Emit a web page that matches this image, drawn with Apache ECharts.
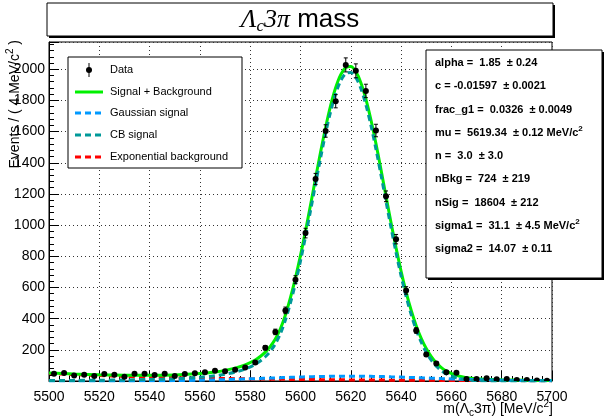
<!DOCTYPE html>
<html><head><meta charset="utf-8">
<script src="https://cdn.jsdelivr.net/npm/echarts@6/dist/echarts.min.js"></script>
<style>html,body{margin:0;padding:0;background:#fff}#c{width:606px;height:418px}</style>
</head><body><div id="c"></div><script>
// ---- data ----
const binCenters = [5502,5506,5510,5514,5518,5522,5526,5530,5534,5538,5542,5546,5550,5554,5558,5562,5566,5570,5574,5578,5582,5586,5590,5594,5598,5602,5606,5610,5614,5618,5622,5626,5630,5634,5638,5642,5646,5650,5654,5658,5662,5666,5670,5674,5678,5682,5686,5690,5694,5698];
const dataValues = [47,51,36,40,32,45,40,27,47,47,38,47,32,45,49,56,66,62,72,86,118,213,315,453,650,949,1296,1604,1795,2028,1990,1861,1607,1185,910,581,324,170,113,56,53,13,13,17,11,13,6,6,3,2];
const dataErrors = [6.9,7.1,6.0,6.3,5.7,6.7,6.3,5.2,6.9,6.9,6.2,6.9,5.7,6.7,7.0,7.5,8.1,7.9,8.5,9.3,10.9,14.6,17.7,21.3,25.5,30.8,36.0,40.0,42.4,45.0,44.6,43.1,40.1,34.4,30.2,24.1,18.0,13.0,10.6,7.5,7.3,3.6,3.6,4.1,3.3,3.6,2.4,2.4,1.7,1.4];
const curveMass = [5500,5510,5520,5530,5540,5550,5560,5566,5570,5574,5578,
  5582,5584,5586,5588,5590,5592,5594,5596,5598,5600,5602,5604,5606,5608,5610,5612,5614,5616,5618,5620,
  5622,5624,5626,5628,5630,5632,5634,5636,5638,5640,5642,5644,5646,5648,5650,5652,5654,5656,5658,
  5662,5666,5670,5676,5680,5690,5700];
const totalFit = [50.9,44.8,40.0,37.1,36.3,39.0,47.6,57.7,68.0,82.4,103.4,
  135.0,157.2,185.1,221.7,269.5,335.1,424.0,534.5,661.9,806.0,963.1,1130.6,1301.9,1470.1,1628,1768.2,1882.5,1965.4,2011.3,2018,
  1984.9,1913.7,1808.9,1676.2,1522.9,1356.7,1185.1,1015.7,854,704.4,570.7,454,355.2,273.7,208,156.2,116.2,86.0,63.7,
  35.8,21.6,14.4,9.4,7.4,4.65,3.07];
const gaussSignal = [0.02,0.05,0.19,0.5,1.2,2.6,5.0,7.1,8.8,10.7,12.8,
  15.1,16.3,17.5,18.7,19.9,21.1,22.3,23.5,24.6,25.6,26.6,27.5,28.4,29.1,29.7,30.2,30.7,30.9,31.0,31.1,
  31.0,30.8,30.4,29.9,29.3,28.6,27.8,26.9,26.0,24.9,23.8,22.7,21.5,20.3,19.1,17.9,16.7,15.5,14.4,
  12.1,10.1,8.2,5.9,4.6,2.35,1.07];
const cbSignal = [2.7,3.6,4.8,6.7,9.7,14.7,24.1,33.8,43.4,56.9,76.7,
  106.9,128.3,155.4,191.2,238.1,302.9,390.9,500.6,627.2,770.6,927,1093.9,1264.6,1432.4,1590,1729.9,1844,1926.9,1973,1979.8,
  1947,1876.2,1772,1640.1,1487.5,1322.2,1151.6,983.3,822.6,674.3,541.9,426.5,329,248.9,184.5,134.0,95.3,66.5,45.4,
  20,8.1,3.0,0.6,0.1,0,0];
const expBkg = [48.2,41.1,35.0,29.9,25.4,21.7,18.5,16.8,15.8,14.8,13.9,
  13.0,12.6,12.2,11.8,11.5,11.1,10.8,10.4,10.1,9.8,9.5,9.2,8.9,8.6,8.3,8.1,7.8,7.6,7.3,7.1,
  6.9,6.7,6.5,6.2,6.1,5.9,5.7,5.5,5.4,5.2,5.0,4.8,4.7,4.5,4.4,4.3,4.2,4.0,3.9,
  3.7,3.4,3.2,2.9,2.7,2.3,2.0];
const legendLabels = ['Data','Signal + Background','Gaussian signal','CB signal','Exponential background'];
const fitParamLines = [
  ['alpha =  1.85  \u00b1 0.24',''],
  ['c = -0.01597  \u00b1 0.0021',''],
  ['frac_g1 =  0.0326  \u00b1 0.0049',''],
  ['mu =  5619.34  \u00b1 0.12 MeV/c','2'],
  ['n =  3.0  \u00b1 3.0',''],
  ['nBkg =  724  \u00b1 219',''],
  ['nSig =  18604  \u00b1 212',''],
  ['sigma1 =  31.1  \u00b1 4.5 MeV/c','2'],
  ['sigma2 =  14.07  \u00b1 0.11','']
];

// ---- helpers ----
const mctx = document.createElement('canvas').getContext('2d');
function tw(t, font){ mctx.font = font; return mctx.measureText(t).width; }
function runWidth(parts){ return parts.reduce((s,p)=>s+tw(p.t,p.font),0); }
function run(parts, x0, yc){
  const els=[]; let x=x0;
  parts.forEach(p=>{
    els.push({type:'text', x:x, y:yc+(p.dy||0), z:101,
      style:{text:p.t, font:p.font, fill:'#000', textAlign:'left', textVerticalAlign:'middle', align:'left', verticalAlign:'middle'}});
    x += tw(p.t,p.font);
  });
  return els;
}

const SANS = 'Liberation Sans, Arial, sans-serif';
const SERIF = 'Liberation Serif, Times New Roman, serif';
const colGreen = '#00f000', colBlue = '#0099ff', colTeal = '#009999', colRed = '#ff0000';

const graphics = [];
// title box
graphics.push({type:'rect', z:100, shape:{x:49,y:5,width:506,height:33}, style:{fill:'#000'}});
graphics.push({type:'rect', z:100, shape:{x:47,y:3,width:506,height:33}, style:{fill:'#fff', stroke:'#000', lineWidth:1}});
const titleParts = [
  {t:'\u039b', font:'italic 26px '+SERIF},
  {t:'c', font:'italic 17px '+SERIF, dy:7},
  {t:'3\u03c0', font:'italic 26px '+SERIF},
  {t:' mass', font:'26px '+SANS}
];
graphics.push(...run(titleParts, 300 - runWidth(titleParts)/2, 20));

// legend box
graphics.push({type:'rect', z:100, shape:{x:68,y:57,width:174,height:111}, style:{fill:'#fff', stroke:'#000', lineWidth:1}});
const legY = [70,92,113,135,157];
const legStyles = [null, {c:colGreen, d:null}, {c:colBlue, d:[6,4]}, {c:colTeal, d:[6,4]}, {c:colRed, d:[6,4]}];
legendLabels.forEach((lab,i)=>{
  const y = legY[i];
  if(i===0){
    graphics.push({type:'line', z:101, shape:{x1:89,y1:y-7,x2:89,y2:y+7}, style:{stroke:'#000',lineWidth:1}});
    graphics.push({type:'circle', z:101, shape:{cx:89,cy:y,r:3}, style:{fill:'#000'}});
  } else {
    const s = legStyles[i];
    graphics.push({type:'line', z:101, shape:{x1:75,y1:y,x2:103,y2:y}, style:{stroke:s.c, lineWidth:3, lineDash:s.d}});
  }
  graphics.push(...run([{t:lab, font:'11px '+SANS}], 110, y));
});

// stats box
graphics.push({type:'rect', z:100, shape:{x:428,y:52,width:176,height:228}, style:{fill:'#000'}});
graphics.push({type:'rect', z:100, shape:{x:426,y:50,width:176,height:228}, style:{fill:'#fff', stroke:'#000', lineWidth:1}});
fitParamLines.forEach((ln,i)=>{
  const parts=[{t:ln[0], font:'bold 11px '+SANS}];
  if(ln[1]) parts.push({t:ln[1], font:'bold 8px '+SANS, dy:-4});
  graphics.push(...run(parts, 435, 63 + i*23.25));
});

// x axis title
const xtParts = [
  {t:'m(\u039b', font:'14px '+SANS},
  {t:'c', font:'10px '+SANS, dy:4},
  {t:'3\u03c0) [MeV/c', font:'14px '+SANS},
  {t:'2', font:'10px '+SANS, dy:-5},
  {t:']', font:'14px '+SANS}
];
graphics.push(...run(xtParts, 553 - runWidth(xtParts), 409));

// y axis title (rotated)
const ytParts = [
  {t:'Events / ( 4 MeV/c', font:'14px '+SANS},
  {t:'2', font:'10px '+SANS, dy:-5},
  {t:' )', font:'14px '+SANS}
];
const ytW = runWidth(ytParts);
graphics.push({type:'group', x:15, y:40, rotation:Math.PI/2, z:101, children: run(ytParts, -ytW, 0)});

function curve(name, ys, color, width, dash, z){
  return {type:'line', name, data: curveMass.map((m,i)=>[m, ys[i]]), showSymbol:false, symbol:'none',
    smooth:0.3, z, silent:true,
    lineStyle:{color, width, type: dash || 'solid'}};
}

const chart = echarts.init(document.getElementById('c'), null, {renderer:'canvas'});
chart.setOption({
  animation:false,
  backgroundColor:'#fff',
  grid:{left:49, right:54, top:42, bottom:37, show:true, borderColor:'#000', borderWidth:1, backgroundColor:'rgba(0,0,0,0)'},
  xAxis:{type:'value', min:5500, max:5700, interval:20,
    axisLine:{show:true, onZero:false, lineStyle:{color:'#000', width:1}},
    axisTick:{show:true, inside:true, length:10, lineStyle:{color:'#000'}},
    minorTick:{show:true, splitNumber:5, length:5, lineStyle:{color:'#000'}},
    axisLabel:{fontFamily:SANS, fontSize:14, color:'#000', margin:9, formatter: v => String(v)},
    splitLine:{show:true, lineStyle:{color:'#333', type:[1,3], width:1}}
  },
  yAxis:{type:'value', min:0, max:2175, interval:200,
    axisLine:{show:true, lineStyle:{color:'#000', width:1}},
    axisTick:{show:true, inside:true, length:10, lineStyle:{color:'#000'}},
    minorTick:{show:true, splitNumber:5, length:5, lineStyle:{color:'#000'}},
    axisLabel:{fontFamily:SANS, fontSize:14, color:'#000', margin:4,
      formatter: v => (v>0 && v%200===0) ? String(v) : ''},
    splitLine:{show:true, lineStyle:{color:'#333', type:[1,3], width:1}}
  },
  series:[
    curve('Exponential background', expBkg, colRed, 3, [6,4], 2),
    curve('Signal + Background', totalFit, colGreen, 3, null, 3),
    curve('Gaussian signal', gaussSignal, colBlue, 3, [6,4], 4),
    curve('CB signal', cbSignal, colTeal, 3, [6,4], 4),
    {type:'custom', name:'Data', z:10, clip:true,
      data: binCenters.map((m,i)=>[m, dataValues[i], dataErrors[i]]),
      renderItem:(params, api)=>{
        const x=api.value(0), y=api.value(1), e=api.value(2);
        const p=api.coord([x,y]), lo=api.coord([x,Math.max(0,y-e)]), hi=api.coord([x,y+e]);
        return {type:'group', children:[
          {type:'line', shape:{x1:p[0],y1:lo[1],x2:p[0],y2:hi[1]}, style:{stroke:'#000',lineWidth:1}},
          {type:'line', shape:{x1:p[0]-2,y1:lo[1],x2:p[0]+2,y2:lo[1]}, style:{stroke:'#000',lineWidth:1}},
          {type:'line', shape:{x1:p[0]-2,y1:hi[1],x2:p[0]+2,y2:hi[1]}, style:{stroke:'#000',lineWidth:1}},
          {type:'circle', shape:{cx:p[0],cy:p[1],r:3}, style:{fill:'#000'}}
        ]};
      }
    }
  ],
  graphic: graphics
});
</script></body></html>
